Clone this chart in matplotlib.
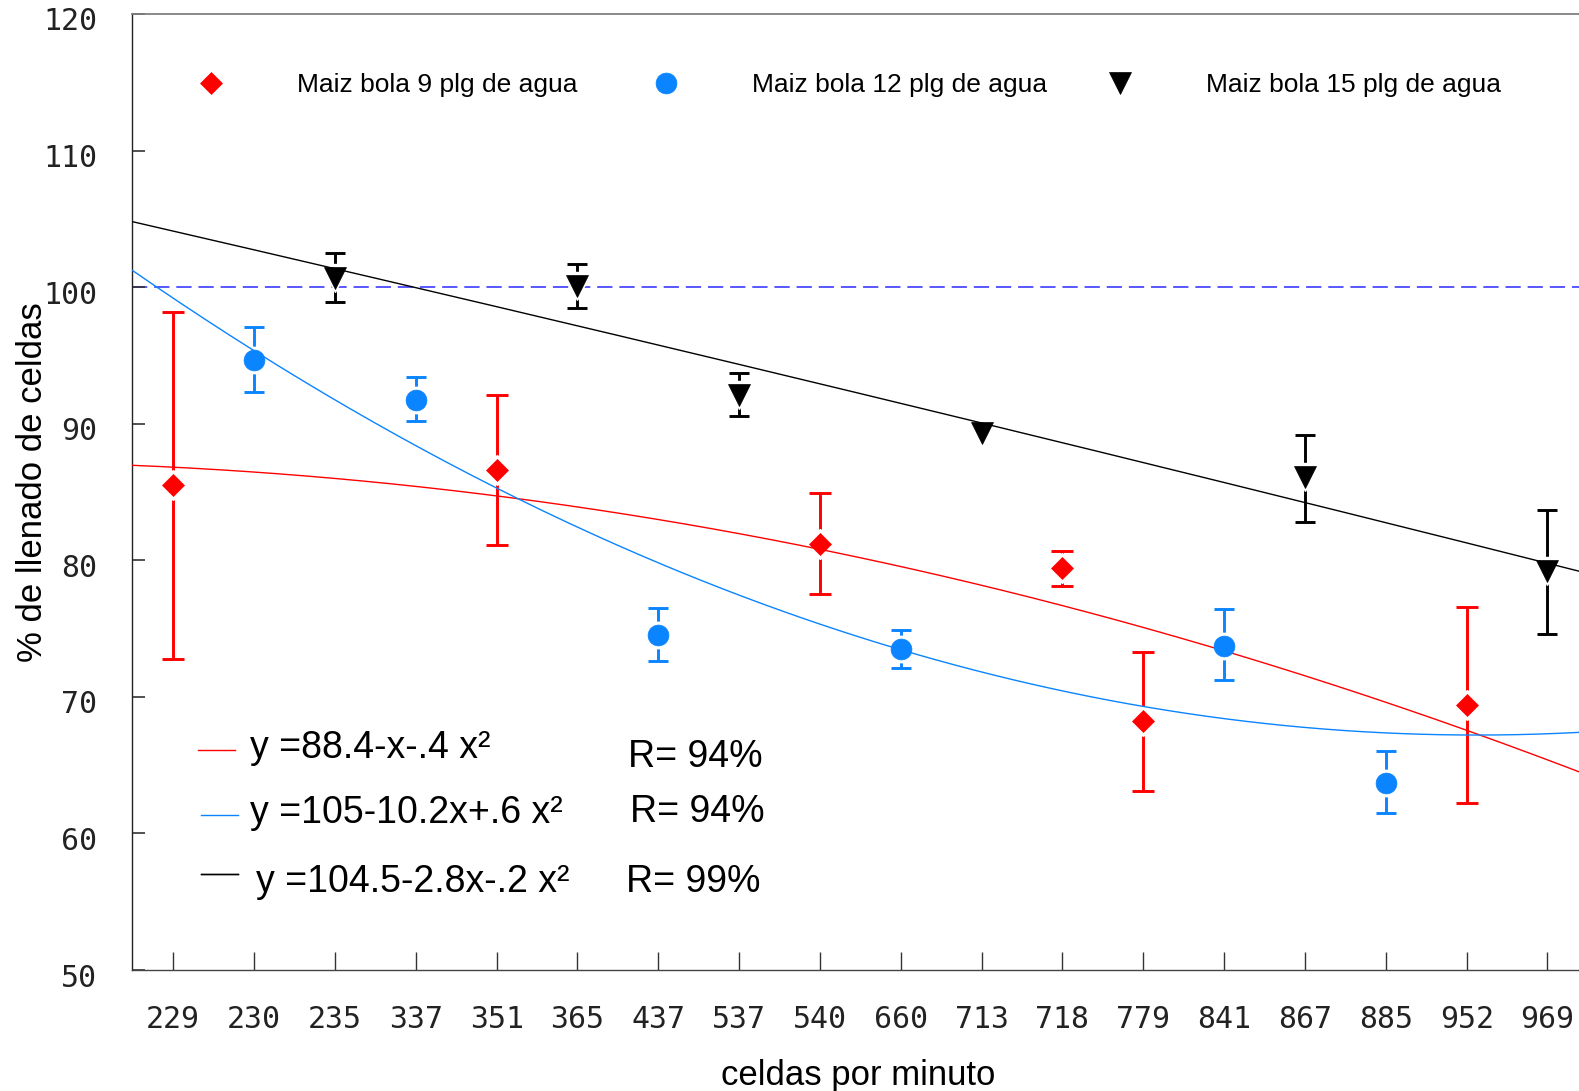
import matplotlib
matplotlib.use('Agg')
import matplotlib.pyplot as plt
import numpy as np
from matplotlib.transforms import ScaledTranslation

# ---------------- data ----------------
categories = ['229', '230', '235', '337', '351', '365', '437', '537', '540',
              '660', '713', '718', '779', '841', '867', '885', '952', '969']

red_pos = [1, 5, 9, 12, 13, 17]
red_val = [85.5, 86.6, 81.2, 79.4, 68.2, 69.4]
red_hi = [98.2, 92.1, 84.9, 80.7, 73.3, 76.6]
red_lo = [72.8, 81.1, 77.5, 78.1, 63.1, 62.2]

blue_pos = [2, 4, 7, 10, 14, 16]
blue_val = [94.7, 91.7, 74.5, 73.5, 73.7, 63.7]
blue_hi = [97.1, 93.4, 76.5, 74.9, 76.4, 66.0]
blue_lo = [92.3, 90.2, 72.6, 72.1, 71.2, 61.5]

black_pos = [3, 6, 8, 11, 15, 18]
black_val = [100.7, 100.1, 92.1, 89.3, 86.1, 79.2]
black_hi = [102.5, 101.7, 93.7, 89.3, 89.2, 83.7]
black_lo = [98.9, 98.5, 90.6, 89.3, 82.8, 74.6]

# fitted trend curves, coefficients (a + b*p + c*p^2, p = category position)
red_fit = [87.06, -0.1865, -0.05653]
blue_fit = [103.28, -4.213, 0.123]
black_fit = [105.47, -1.3618, -0.00362]

series_labels = ['Maiz bola 9 plg de agua', 'Maiz bola 12 plg de agua', 'Maiz bola 15 plg de agua']
eq_labels = ['y =88.4-x-.4 x\u00b2', 'y =105-10.2x+.6 x\u00b2', 'y =104.5-2.8x-.2 x\u00b2']
r_labels = ['R= 94%', 'R= 94%', 'R= 99%']
reference_level = 100

RED = '#ff0000'
BLUE = '#0a84ff'
BLACK = '#000000'

W, H = 1579, 1091
fig = plt.figure(figsize=(W / 100, H / 100), dpi=100)
L, R_, T, B = 132, 1579, 14, 970
ax = fig.add_axes([L / W, (H - B) / H, (R_ - L) / W, (B - T) / H])

xmin, xmax = 0.49, 18.39
ax.set_xlim(xmin, xmax)
ax.set_ylim(50, 120)

# reference dashed line
ax.axhline(reference_level, color='#2a2aff', lw=1.1, dashes=(10, 4.5), zorder=1)

# fit curves
pp = np.linspace(xmin, xmax, 300)
fit_lines = []
for coef, col in [(red_fit, RED), (blue_fit, BLUE), (black_fit, BLACK)]:
    yy = coef[0] + coef[1] * pp + coef[2] * pp ** 2
    ln, = ax.plot(pp, yy, color=col, lw=1.0, zorder=3)
    fit_lines.append(ln)

marker_handles = []
specs = [
    (red_pos, red_val, red_hi, red_lo, RED, 'D', 11.5, 8),
    (blue_pos, blue_val, blue_hi, blue_lo, BLUE, 'o', 15, 7.5),
    (black_pos, black_val, black_hi, black_lo, BLACK, 'v', 15.5, 7.5),
]
for pos, val, hi, lo, col, mk, ms, cs in specs:
    pos = np.array(pos, float)
    val = np.array(val, float)
    hi = np.array(hi, float)
    lo = np.array(lo, float)
    has = (hi - lo) > 0
    ax.errorbar(pos[has], val[has], yerr=[val[has] - lo[has], hi[has] - val[has]],
                fmt='none', ecolor=col, elinewidth=2.1, capsize=cs, capthick=2.1, zorder=2)
    # white halo separating the bars from the markers
    ax.plot(pos, val, linestyle='none', marker=mk, ms=ms + 4, color='white',
            markeredgecolor='white', zorder=2.5)
    h, = ax.plot(pos, val, linestyle='none', marker=mk, ms=ms, color=col,
                 markeredgecolor=col, markeredgewidth=0.5, zorder=4)
    marker_handles.append(h)

# ticks
ax.set_xticks(np.arange(1, len(categories) + 1))
ax.set_xticklabels(categories)
ax.set_yticks(np.arange(50, 121, 10))
ax.tick_params(axis='x', direction='in', length=13, width=1, color='#333333', pad=25,
               labelsize=21.5)
ax.tick_params(axis='y', direction='in', length=9.5, width=1.2, color='#333333', pad=25,
               labelsize=21.5)
for lab in ax.get_xticklabels() + ax.get_yticklabels():
    lab.set_fontfamily('DejaVu Sans Mono')
    lab.set_color('#222222')
for lab in ax.get_yticklabels():
    lab.set_transform(lab.get_transform() + ScaledTranslation(0, -5 / 100, fig.dpi_scale_trans))

ax.spines['right'].set_visible(False)
ax.spines['top'].set_color('#808080')
ax.spines['top'].set_linewidth(1.3)
ax.spines['left'].set_color('#222222')
ax.spines['left'].set_linewidth(1.0)
ax.spines['bottom'].set_color('#444444')
ax.spines['bottom'].set_linewidth(1.0)

ax.set_xlabel('celdas por minuto', fontfamily='Liberation Sans', fontsize=25)
ax.set_ylabel('% de llenado de celdas', fontfamily='Liberation Sans', fontsize=25)
ax.yaxis.set_label_coords(-0.0575, 0.51)
ax.xaxis.set_label_coords(0.502, -0.093)


def fx(px):
    return (px - L) / (R_ - L)


def fy(py):
    return (B - py) / (B - T)


# top legend: three entries
leg_x = [198, 653, 1107]
for h, lab, lx in zip(marker_handles, series_labels, leg_x):
    lg = ax.legend([h], [lab], frameon=False, loc='center left',
                   bbox_to_anchor=(fx(lx), fy(85)), borderpad=0, borderaxespad=0,
                   handlelength=1.0, handletextpad=2.75,
                   prop={'family': 'Liberation Sans', 'size': 19})
    ax.add_artist(lg)

# equation keys (line samples)
key_rows = [(198, 753), (201, 818), (201, 877)]
for ln, (kx, ky) in zip(fit_lines, key_rows):
    lg = ax.legend([ln], [''], frameon=False, loc='center left',
                   bbox_to_anchor=(fx(kx), fy(ky)), borderpad=0, borderaxespad=0,
                   handlelength=1.07, handletextpad=0,
                   prop={'family': 'Liberation Sans', 'size': 25})
    ax.add_artist(lg)

# equation texts and R values (baseline positions)
eq_rows = [(250, 758), (250, 823), (256, 892)]
for lab, (ex, ey) in zip(eq_labels, eq_rows):
    ax.text(fx(ex), fy(ey), lab, transform=ax.transAxes, ha='left', va='baseline',
            fontfamily='Liberation Sans', fontsize=27)

r_rows = [(628, 767), (630, 822), (626, 892)]
for lab, (rx, ry) in zip(r_labels, r_rows):
    ax.text(fx(rx), fy(ry), lab, transform=ax.transAxes, ha='left', va='baseline',
            fontfamily='Liberation Sans', fontsize=27)

fig.savefig('out.png', dpi=100)
